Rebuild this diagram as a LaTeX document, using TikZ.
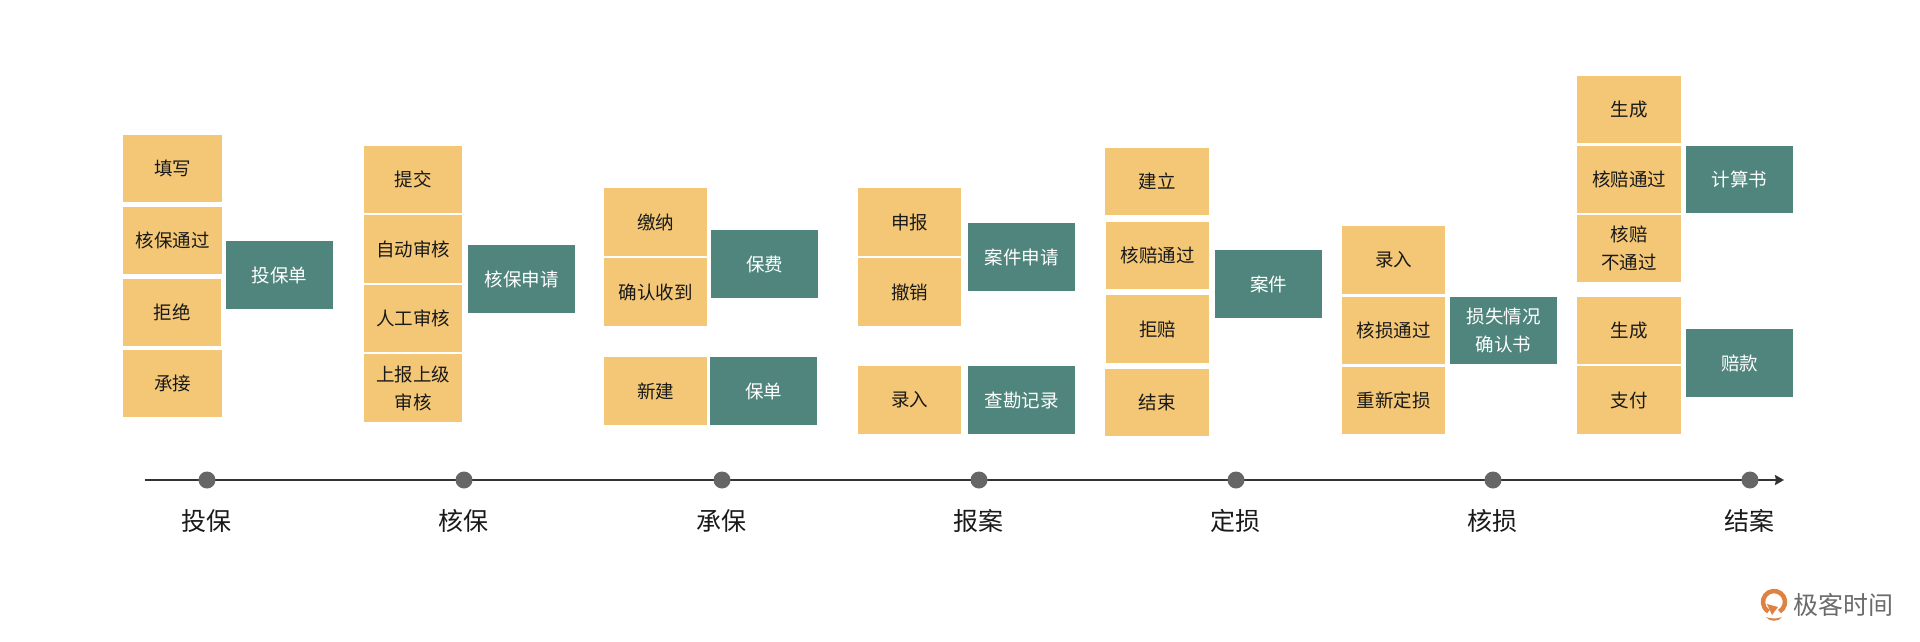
\documentclass[tikz,border=0pt]{standalone}
\usepackage{fontspec}
\setmainfont{Noto Sans CJK SC}
\usetikzlibrary{arrows.meta}
\definecolor{boxyellow}{HTML}{F3C776}
\definecolor{boxteal}{HTML}{4F857C}
\definecolor{dotgrey}{HTML}{666666}
\definecolor{axisgrey}{HTML}{333333}
\definecolor{logogrey}{HTML}{6B6B6B}
\definecolor{logoorange}{HTML}{DD8240}
\tikzset{
  x=1pt,y=-1pt,
  cell/.style={inner sep=0pt,outer sep=0pt,align=center,font=\fontsize{18.5}{28}\selectfont},
  ycell/.style={cell,fill=boxyellow,text=black!90},
  tcell/.style={cell,fill=boxteal,text=white},
  stage/.style={circle,fill=dotgrey,minimum size=17pt,inner sep=0pt,outer sep=0pt},
  stagelabel/.style={inner sep=0pt,font=\fontsize{25}{28}\selectfont,text=black!90},
  axisline/.style={draw=axisgrey,line width=2pt,-{Stealth[length=9pt,width=10pt,inset=1pt]}},
}
% name, style, x1, y1, x2, y2, text
\newcommand{\bx}[7]{\node[#2,minimum width={(#5-#3)*1pt},minimum height={(#6-#4)*1pt}] (#1) at ({(#3+#5)/2},{(#4+#6)/2}) {#7};}
\newcommand{\stg}[3]{\node[stage] (#1) at (#2,480) {}; \node[stagelabel] (#1l) at (#2-0.5,521) {#3};}
\begin{document}
\begin{tikzpicture}
\useasboundingbox (0,0) rectangle (1920,641);
% column 1
\bx{a1}{ycell}{123}{135}{222}{202}{填写}
\bx{a2}{ycell}{123}{207}{222}{274}{核保通过}
\bx{a3}{ycell}{123}{279}{221}{346}{拒绝}
\bx{a4}{ycell}{123}{350}{222}{417}{承接}
\bx{a5}{tcell}{226}{241}{333}{309}{投保单}
% column 2
\bx{b1}{ycell}{364}{146}{462}{213}{提交}
\bx{b2}{ycell}{364}{215}{462}{283}{自动审核}
\bx{b3}{ycell}{364}{285}{462}{352}{人工审核}
\bx{b4}{ycell}{364}{354}{462}{422}{上报上级\\审核}
\bx{b5}{tcell}{468}{245}{575}{313}{核保申请}
% column 3
\bx{c1}{ycell}{604}{188}{707}{256}{缴纳}
\bx{c2}{ycell}{604}{258}{707}{326}{确认收到}
\bx{c3}{tcell}{711}{230}{818}{298}{保费}
\bx{c4}{ycell}{604}{357}{707}{425}{新建}
\bx{c5}{tcell}{710}{357}{817}{425}{保单}
% column 4
\bx{d1}{ycell}{858}{188}{961}{256}{申报}
\bx{d2}{ycell}{858}{258}{961}{326}{撤销}
\bx{d3}{tcell}{968}{223}{1075}{291}{案件申请}
\bx{d4}{ycell}{858}{366}{961}{434}{录入}
\bx{d5}{tcell}{968}{366}{1075}{434}{查勘记录}
% column 5
\bx{e1}{ycell}{1105}{148}{1209}{215}{建立}
\bx{e2}{ycell}{1106}{222}{1209}{289}{核赔通过}
\bx{e3}{ycell}{1106}{295}{1209}{363}{拒赔}
\bx{e4}{ycell}{1105}{369}{1209}{436}{结束}
\bx{e5}{tcell}{1215}{250}{1322}{318}{案件}
% column 6
\bx{f1}{ycell}{1342}{226}{1445}{294}{录入}
\bx{f2}{ycell}{1342}{297}{1445}{364}{核损通过}
\bx{f3}{ycell}{1342}{367}{1445}{434}{重新定损}
\bx{f4}{tcell}{1450}{297}{1557}{364}{损失情况\\确认书}
% column 7
\bx{g1}{ycell}{1577}{76}{1681}{143}{生成}
\bx{g2}{ycell}{1577}{146}{1681}{213}{核赔通过}
\bx{g3}{ycell}{1577}{215}{1681}{282}{核赔\\不通过}
\bx{g4}{tcell}{1686}{146}{1793}{213}{计算书}
\bx{g5}{ycell}{1577}{297}{1681}{364}{生成}
\bx{g6}{ycell}{1577}{366}{1681}{434}{支付}
\bx{g7}{tcell}{1686}{329}{1793}{397}{赔款}
% timeline
\coordinate (axisstart) at (145,480);
\coordinate (axisend) at (1784,480);
\draw[axisline] (axisstart) -- (axisend);
\stg{s1}{207}{投保}
\stg{s2}{464}{核保}
\stg{s3}{722}{承保}
\stg{s4}{979}{报案}
\stg{s5}{1236}{定损}
\stg{s6}{1493}{核损}
\stg{s7}{1750}{结案}
% logo
\draw[logoorange,line width=4.5pt] (1774,602) ++(60:11) arc[start angle=60,end angle=-240,radius=11,x=1pt,y=1pt];
\fill[logoorange] (1767,604) -- (1778,607) -- (1772,615) -- cycle;
\fill[logoorange] (1766,617) .. controls (1771,619) and (1777,619) .. (1782,617) .. controls (1779,622) and (1769,622) .. (1766,617) -- cycle;
\node[inner sep=0pt,text=logogrey,font=\fontsize{25}{28}\selectfont] (logotext) at (1843,605) {极客时间};
\end{tikzpicture}
\end{document}
